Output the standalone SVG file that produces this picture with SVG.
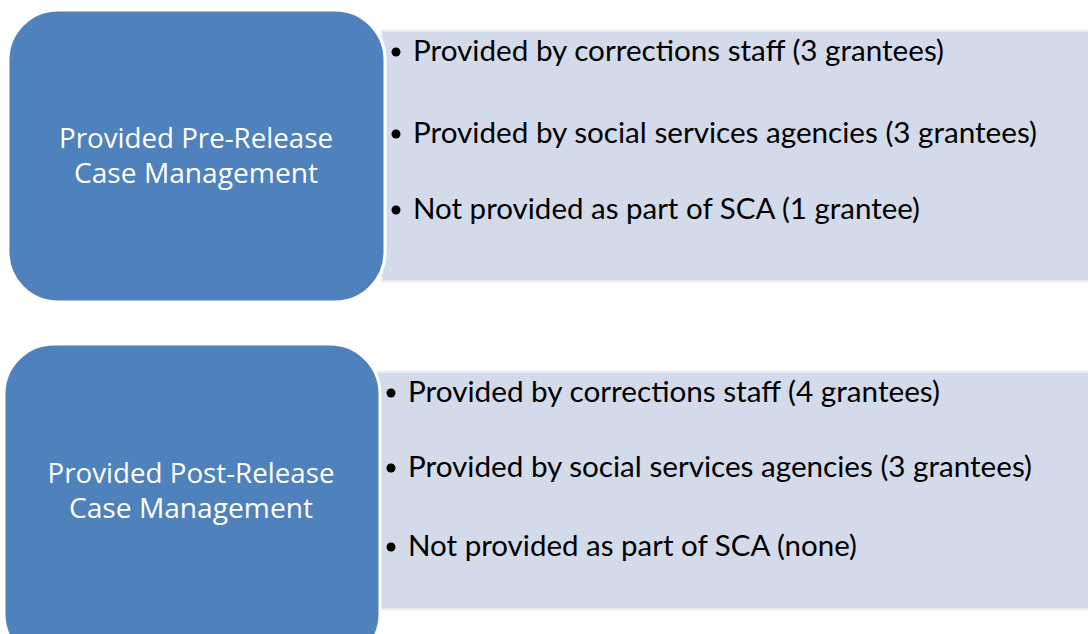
<svg xmlns="http://www.w3.org/2000/svg" width="1088" height="634" viewBox="0 0 1088 634">
  <defs>
    <style>
      .panel { fill: #D3DAE9; stroke: #E4E9F2; stroke-width: 2; }
      .head { fill: #4F81BD; stroke: #FFFFFF; stroke-width: 3; }
      .label { font-family: "Open Sans", "Liberation Sans", sans-serif; font-size: 27.5px; fill: #FFFFFF; text-anchor: middle; }
      .item { font-family: Lato, "Liberation Sans", sans-serif; font-size: 28.5px; fill: #000000; }
      .dot { fill: #000000; }
    </style>
  </defs>

  <!-- Pre-release case management -->
  <g id="pre-release">
    <rect class="panel" x="382" y="31" width="710" height="250"/>
    <rect class="head" x="8" y="10" width="377" height="292" rx="50" ry="50"/>
    <text class="label" x="196" y="148" textLength="274" lengthAdjust="spacingAndGlyphs">Provided Pre-Release</text>
    <text class="label" x="196" y="183" textLength="244" lengthAdjust="spacingAndGlyphs">Case Management</text>
    <circle class="dot" cx="396" cy="52" r="4.5"/>
    <text class="item" x="413" y="61" textLength="531" lengthAdjust="spacingAndGlyphs">Provided by corrections staff (3 grantees)</text>
    <circle class="dot" cx="396" cy="134" r="4.5"/>
    <text class="item" x="413" y="143" textLength="624" lengthAdjust="spacingAndGlyphs">Provided by social services agencies (3 grantees)</text>
    <circle class="dot" cx="396" cy="210" r="4.5"/>
    <text class="item" x="413" y="219" textLength="507" lengthAdjust="spacingAndGlyphs">Not provided as part of SCA (1 grantee)</text>
  </g>

  <!-- Post-release case management -->
  <g id="post-release">
    <rect class="panel" x="376" y="372" width="716" height="237"/>
    <rect class="head" x="4" y="344" width="376" height="320" rx="50" ry="50"/>
    <text class="label" x="191" y="483" textLength="287" lengthAdjust="spacingAndGlyphs">Provided Post-Release</text>
    <text class="label" x="191" y="518" textLength="244" lengthAdjust="spacingAndGlyphs">Case Management</text>
    <circle class="dot" cx="391" cy="393" r="4.5"/>
    <text class="item" x="408" y="402" textLength="532" lengthAdjust="spacingAndGlyphs">Provided by corrections staff (4 grantees)</text>
    <circle class="dot" cx="391" cy="468" r="4.5"/>
    <text class="item" x="408" y="477" textLength="624" lengthAdjust="spacingAndGlyphs">Provided by social services agencies (3 grantees)</text>
    <circle class="dot" cx="391" cy="547" r="4.5"/>
    <text class="item" x="408" y="556" textLength="449" lengthAdjust="spacingAndGlyphs">Not provided as part of SCA (none)</text>
  </g>

  <g id="connectors"/>
</svg>
